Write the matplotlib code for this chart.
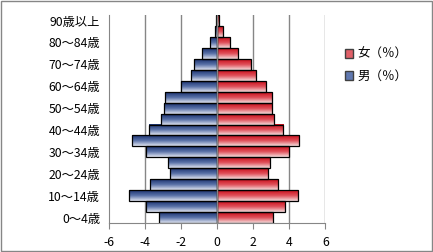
import matplotlib
matplotlib.use("Agg")
import matplotlib.pyplot as plt
import numpy as np
from matplotlib.colors import LinearSegmentedColormap
from matplotlib.patches import Patch, Rectangle

plt.rcParams["font.family"] = ["Noto Sans CJK JP", "DejaVu Sans"]

age_groups = [
    "0～4歳", "5～9歳", "10～14歳", "15～19歳", "20～24歳", "25～29歳",
    "30～34歳", "35～39歳", "40～44歳", "45～49歳", "50～54歳", "55～59歳",
    "60～64歳", "65～69歳", "70～74歳", "75～79歳", "80～84歳", "85～89歳",
    "90歳以上",
]
male_pct = [3.23, 3.90, 4.88, 3.68, 2.58, 2.73, 3.92, 4.70, 3.78, 3.08,
            2.95, 2.90, 2.01, 1.42, 1.29, 0.85, 0.41, 0.13, 0.04]
female_pct = [3.13, 3.79, 4.51, 3.40, 2.81, 2.96, 3.97, 4.57, 3.68, 3.18,
              3.07, 3.07, 2.69, 2.17, 1.86, 1.14, 0.75, 0.31, 0.14]
x_ticks = [-6, -4, -2, 0, 2, 4, 6]

male_cmap = LinearSegmentedColormap.from_list("male", ["#1c3370", "#5a72a8", "#dfe4f0"])
female_cmap = LinearSegmentedColormap.from_list("female", ["#c8101c", "#e0505a", "#f4dcdc"])
grad = np.linspace(0, 1, 32).reshape(-1, 1)

fig = plt.figure(figsize=(4.33, 2.52), dpi=100)
ax = fig.add_axes([0.2506, 0.115, 0.5007, 0.825])

y = np.arange(len(age_groups))
male_bars = ax.barh(y, -np.array(male_pct), height=1.0, facecolor="none",
                    edgecolor="black", linewidth=0.9, zorder=3)
female_bars = ax.barh(y, female_pct, height=1.0, facecolor="none",
                      edgecolor="black", linewidth=0.9, zorder=3)

# gradient fill: dark at the top of each bar, pale at the bottom
for bars, cmap in ((male_bars, male_cmap), (female_bars, female_cmap)):
    for bar in bars:
        x0, y0 = bar.get_x(), bar.get_y()
        w, h = bar.get_width(), bar.get_height()
        ax.imshow(grad, cmap=cmap, aspect="auto", origin="upper",
                  extent=(min(x0, x0 + w), max(x0, x0 + w), y0, y0 + h),
                  interpolation="bilinear", zorder=2)

ax.set_xlim(-6, 6)
ax.set_ylim(-0.5, len(age_groups) - 0.5)
ax.set_xticks(x_ticks)
ax.set_xticklabels([str(t) for t in x_ticks], fontsize=8.8)
ax.set_yticks(y[::2])
ax.set_yticklabels(age_groups[::2], fontsize=8.8)
ax.tick_params(axis="y", length=0, pad=6)
ax.tick_params(axis="x", length=4, color="#868686", pad=5)

for t in x_ticks[1:]:
    ax.axvline(t, color="#868686", linewidth=1.0, zorder=1 if t != 0 else 4)

for side in ("top", "right"):
    ax.spines[side].set_visible(False)
ax.spines["left"].set_color("#868686")
ax.spines["bottom"].set_color("#868686")

handles = [
    Patch(facecolor="#e06068", edgecolor="#404040", label="女（％）"),
    Patch(facecolor="#6078b0", edgecolor="#404040", label="男（％）"),
]
fig.legend(handles=handles, loc="upper left", bbox_to_anchor=(0.77, 0.855),
           frameon=False, fontsize=9, handlelength=0.7, handleheight=0.7,
           handletextpad=0.3, labelspacing=0.7)

fig.patches.append(Rectangle((0.002, 0.004), 0.995, 0.992, transform=fig.transFigure,
                             fill=False, edgecolor="#868686", linewidth=1.0))

fig.savefig("out.png", dpi=100)
